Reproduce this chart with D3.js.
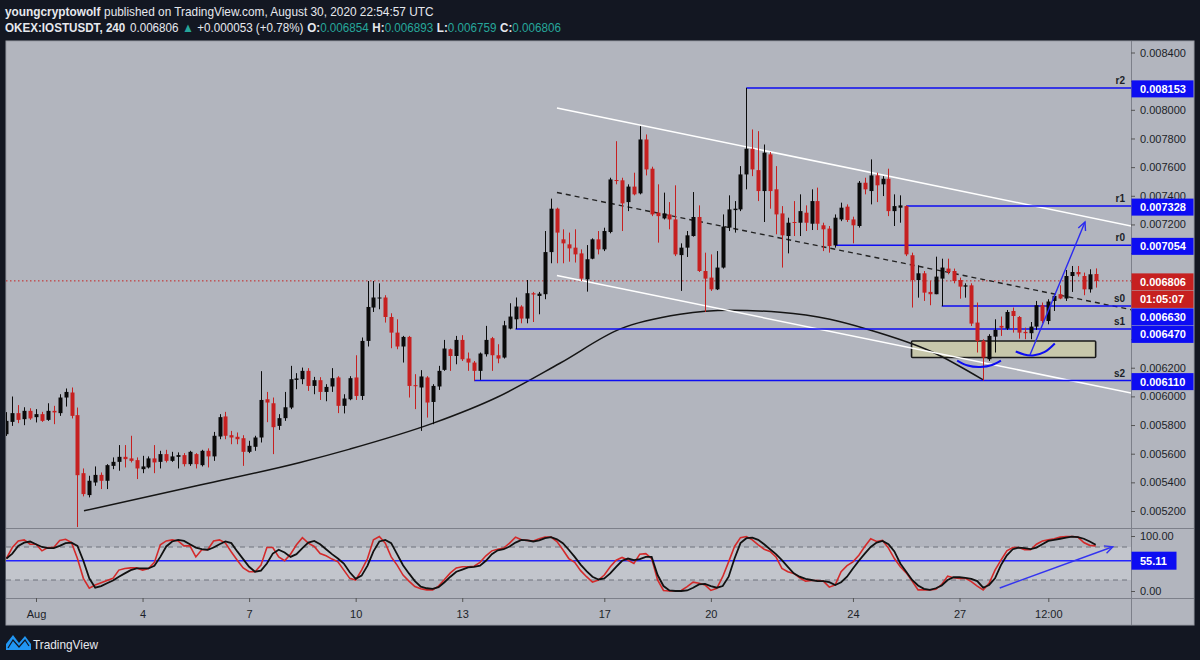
<!DOCTYPE html>
<html><head><meta charset="utf-8">
<script src="https://cdn.jsdelivr.net/npm/d3@7"></script>
<style>html,body{margin:0;padding:0;background:#131722;}svg{display:block;}</style>
</head><body>
<svg id="c" width="1200" height="660"></svg>
<script>
// ---------------- DATA (prices in 1e-6 USDT) ----------------
// 4h candles from 2020-07-31 04:00 UTC to 2020-08-30 20:00 UTC : [open, high, low, close]
const candles = [
[5736,5890,5724,5829],[5822,5999,5794,5883],[5883,5939,5813,5836],[5841,5924,5799,5899],[5899,5917,5836,5846],
[5855,5911,5818,5876],[5876,5892,5822,5829],[5836,5952,5829,5899],[5899,5934,5806,5888],[5883,6015,5864,5992],
[5992,6055,5929,6031],[6027,6062,5846,5864],[5869,5922,5088,5450],[5464,5497,5302,5318],[5311,5446,5295,5411],
[5399,5511,5376,5452],[5452,5469,5353,5411],[5411,5527,5353,5520],[5515,5574,5492,5543],[5543,5660,5481,5578],
[5578,5660,5504,5562],[5567,5725,5539,5550],[5555,5574,5423,5497],[5492,5585,5464,5511],[5504,5581,5497,5567],
[5567,5660,5464,5539],[5543,5620,5497,5597],[5597,5627,5539,5550],[5550,5613,5543,5581],[5578,5609,5497,5590],
[5590,5604,5511,5527],[5527,5620,5515,5613],[5597,5604,5497,5527],[5520,5627,5511,5620],[5620,5637,5504,5581],
[5581,5752,5550,5725],[5720,5876,5701,5855],[5860,5892,5701,5725],[5729,5759,5666,5713],[5718,5748,5666,5701],
[5708,5729,5515,5613],[5613,5690,5604,5655],[5648,5725,5620,5713],[5713,6176,5678,5975],[5980,6031,5820,5957],
[5952,5992,5597,5785],[5794,5876,5766,5848],[5848,6031,5829,5924],[5922,6213,5911,6120],[6115,6162,6050,6125],
[6120,6201,6085,6178],[6178,6197,6038,6073],[6073,6136,6015,6113],[6113,6134,5975,6031],[6031,6085,5966,6066],
[6069,6197,6031,6127],[6132,6141,5883,5934],[5934,6015,5881,5985],[5980,6141,5973,6127],[6132,6287,5975,6003],
[6003,6411,5975,6387],[6387,6805,6348,6624],[6620,6805,6589,6690],[6683,6789,6608,6690],[6690,6706,6515,6554],
[6554,6580,6336,6445],[6445,6538,6329,6348],[6348,6422,6236,6415],[6415,6422,5992,6073],[6078,6155,5911,6073],
[6062,6183,5759,6139],[6132,6141,5852,5957],[5961,6085,5806,6073],[6069,6213,6045,6178],[6185,6394,6178,6334],
[6329,6334,6178,6282],[6282,6422,6224,6394],[6394,6427,6247,6259],[6264,6306,6178,6236],[6236,6247,6110,6178],
[6178,6306,6115,6299],[6294,6492,6278,6394],[6406,6415,6178,6287],[6287,6364,6231,6264],[6271,6527,6264,6496],
[6473,6650,6468,6557],[6538,6690,6470,6627],[6627,6636,6510,6543],[6543,6812,6510,6720],[6720,6729,6519,6711],
[6701,6729,6573,6717],[6713,7154,6678,7007],[7007,7380,6929,7310],[7310,7317,6929,7143],[7096,7166,6929,7068],
[7061,7143,6940,7033],[7038,7166,6934,6991],[6998,7026,6805,6822],[6817,7056,6731,6957],[6961,7103,6957,7096],
[7096,7154,6991,7026],[7026,7177,7014,7154],[7147,7526,7138,7514],[7510,7781,7480,7503],[7508,7526,7154,7347],
[7356,7480,7293,7464],[7464,7561,7403,7410],[7417,7886,7410,7793],[7793,7828,7542,7584],[7589,7603,7258,7270],
[7282,7480,7073,7258],[7242,7422,7235,7277],[7270,7356,7166,7235],[7235,7473,6979,6991],[6986,7068,6736,7038],
[7038,7154,6973,7124],[7119,7426,7115,7252],[7252,7333,6868,6875],[6875,7003,6589,6822],[6829,6991,6736,6747],
[6747,7014,6742,6899],[6899,7270,6892,7185],[7178,7403,7154,7305],[7300,7363,7143,7310],[7305,7607,7293,7549],
[7549,8153,7445,7728],[7728,7863,7537,7584],[7579,7851,7363,7433],[7433,7758,7217,7701],[7689,7705,7310,7433],
[7445,7607,7131,7270],[7277,7328,6899,7124],[7119,7247,6998,7212],[7217,7363,7119,7212],[7212,7410,7119,7293],
[7282,7333,7154,7212],[7205,7445,7161,7363],[7363,7457,7161,7205],[7194,7212,7014,7166],[7171,7189,7003,7049],
[7054,7270,7038,7247],[7235,7352,7223,7317],[7324,7340,7217,7231],[7235,7254,7068,7194],[7189,7503,7178,7491],
[7491,7526,7410,7445],[7433,7654,7340,7542],[7542,7561,7356,7473],[7480,7537,7398,7519],[7519,7589,7258,7293],
[7293,7410,7189,7328],[7317,7403,7212,7333],[7328,7333,6979,6991],[6985,7003,6620,6812],[6812,6915,6689,6859],
[6859,6875,6666,6724],[6729,6805,6636,6713],[6713,6975,6713,6836],[6822,6961,6630,6899],[6892,6961,6852,6868],
[6875,6892,6789,6805],[6812,6829,6682,6766],[6766,6789,6689,6775],[6775,6789,6491,6508],[6515,6655,6306,6387],
[6387,6399,6110,6271],[6259,6434,6247,6422],[6417,6538,6306,6464],[6492,6557,6422,6480],[6473,6603,6464,6589],
[6596,6620,6445,6561],[6554,6561,6403,6445],[6450,6480,6399,6441],[6441,6519,6399,6487],[6487,6666,6464,6636],
[6636,6655,6510,6526],[6526,6678,6503,6662],[6666,6713,6596,6701],[6713,6775,6678,6683],[6683,6882,6666,6840],
[6840,6910,6729,6868],[6868,6910,6836,6852],[6840,6864,6706,6747],[6747,6887,6724,6852],[6854,6893,6759,6806]
];
// Stoch RSI %K (red) and %D (black), one value per candle
const stochK = [59,79,91,93,85,85,73,79,79,92, 94,88,59,23,5,11,15,19,23,38, 41,42,42,38,41,52,84,91,93,91,
 82,82,62,75,75,91,93,87,71,56, 42,35,35,47,79,79,62,55,67,84, 97,87,81,68,64,58,53,38,23,20,
 38,59,93,99,87,62,47,29,18,8, 4,2,2,9,21,33,42,44,44,45, 52,64,73,76,78,87,98,93,92,91,
 95,98,98,90,75,59,52,37,26,16, 20,29,44,56,61,56,50,67,68,59, 20,1,0,0,1,8,16,14,11,1,
 5,26,53,81,97,99,93,84,76,72, 62,41,35,32,24,18,19,19,18,7, 11,35,46,53,65,81,95,90,92,78,
 59,44,33,18,2,2,2,3,12,27, 24,23,23,17,9,2,14,38,56,73, 79,79,75,75,85,91,93,95,98,99, 99,98,88,83,82];
const stochD = [59,68,82,88,90,85,80,78,78,82, 87,88,82,55,23,6,9,14,19,26, 32,38,41,41,41,46,62,81,90,93,
 91,85,79,76,75,79,85,90,87,72, 58,44,35,37,50,68,75,70,62,67, 78,88,91,85,76,67,59,50,34,22,
 28,46,72,90,93,87,67,47,32,18, 8,5,4,7,16,26,35,39,43,44, 46,55,67,74,76,81,88,93,92,90,
 92,96,98,94,87,75,62,48,36,26, 21,23,32,44,55,59,56,58,62,62, 29,9,1,0,0,1,6,12,13,9,
 6,9,26,59,87,96,97,93,85,76, 67,56,44,32,26,22,20,18,18,16, 11,16,26,41,55,68,80,88,91,85,
 72,50,35,20,10,4,2,5,10,20, 25,25,24,22,18,6,11,23,47,65, 76,79,78,76,79,85,91,93,95,97, 99,98,95,90,84];
const priceTicks = [5200,5400,5600,5800,6000,6200,6400,6600,6800,7000,7200,7400,7600,7800,8000,8200,8400];
const timeTickDates = ["2020-08-01T00:00Z","2020-08-04T00:00Z","2020-08-07T00:00Z","2020-08-10T00:00Z","2020-08-13T00:00Z",
 "2020-08-17T00:00Z","2020-08-20T00:00Z","2020-08-24T00:00Z","2020-08-27T00:00Z","2020-08-29T12:00Z"];
const timeTickLabels = ["Aug","4","7","10","13","17","20","24","27","12:00"];
const oscTicks = [0,100];
// horizontal levels: name, price, start candle index
const levelNames = ["r2","r1","r0","s0","s1","s2"];
const levelPrices = [8153,7328,7054,6630,6470,6110];
const levelStart = [125,152,140,158,86,79];
const currentPrice = 6806;
const countdown = "01:05:07";
const oscLevel = 55.11;
// header texts
const headerLine1 = [["youngcryptowolf",1,0,0],["published on TradingView.com, August 30, 2020 22:54:57 UTC",0,0,4]];
const headerLine2 = [["OKEX:IOSTUSDT, 240",1,0,0],["0.006806",0,0,5],["▲",0,1,4],["+0.000053 (+0.78%)",0,0,4],
 ["O:",1,0,4],["0.006854",0,1,0],["H:",1,0,4],["0.006893",0,1,0],["L:",1,0,4],["0.006759",0,1,0],["C:",1,0,4],["0.006806",0,1,0]];
// drawings: [candle index, price]
const channelUpper = [[93.0,8013],[190,7189]];
const channelLower = [[93.0,6844],[190,6024]];
const channelMid = [[93.0,7423],[190,6605]];
const arcCurve = [[13.1,5201],[32.7,5381],[49.6,5539],[58.0,5632],[72.1,5813],[82.9,5994],[93.5,6231],[103.6,6469],
 [113.8,6573],[122.2,6601],[130.7,6587],[139.1,6538],[145.4,6469],[156.5,6308],[165.0,6115]];
const zoneBox = [[152.9,6387],[184.0,6271]];
const smile1 = [[160.6,6250],[162.4,6215],[164.5,6205],[166.5,6219],[168.0,6250]];
const smile2 = [[170.5,6313],[171.9,6292],[173.4,6285],[175.4,6310],[177.1,6369]];
const arrowMain = [[172.9,6289],[182.2,7217]];
const arrowOsc = [[167.8,5.5],[186.9,80.5]];

// ---------------- LAYOUT ----------------
const PL=6, PR=1194, AX=1131, MT=41, MB=528, OB=598, TB=625;
const BG='#131722', PANE='#b2b5be', BAND='#c2c5cc', SEP='#7d808a';
const UP='#0a0a0a', DN='#c62020', BLUE='#0d0df2', TXT='#1c1f29';
const FONT='"Liberation Sans", Arial, sans-serif';

const t0 = Date.UTC(2020,6,31,4), H4 = 4*3600*1000;
const x = d3.scaleUtc().domain([new Date(Date.UTC(2020,7,1)), new Date(Date.UTC(2020,7,27))]).range([36,959.5]);
const xi = i => x(new Date(t0 + i*H4));
const y = d3.scaleLinear().domain([5200,8400]).range([511,52.5]);
const yO = d3.scaleLinear().domain([0,100]).range([591,536]);

const svg = d3.select('#c');
const defs = svg.append('defs');
defs.append('clipPath').attr('id','cm').append('rect').attr('x',PL).attr('y',MT).attr('width',AX-PL).attr('height',MB-MT);
defs.append('clipPath').attr('id','co').append('rect').attr('x',PL).attr('y',MB).attr('width',AX-PL).attr('height',OB-MB);

svg.append('rect').attr('width',1200).attr('height',660).attr('fill',BG);
svg.append('rect').attr('x',PL).attr('y',MT).attr('width',PR-PL).attr('height',TB-MT).attr('fill',PANE)
  .attr('stroke','#9a9da6').attr('stroke-width',1);
svg.append('rect').attr('x',PL).attr('y',yO(80)).attr('width',AX-PL).attr('height',yO(20)-yO(80)).attr('fill',BAND);

// ---------------- MAIN PANE ----------------
const gm = svg.append('g').attr('clip-path','url(#cm)');
const lp = d3.line().x(d=>xi(d[0])).y(d=>y(d[1]));

gm.append('line').attr('x1',PL).attr('x2',AX).attr('y1',y(currentPrice)).attr('y2',y(currentPrice))
  .attr('stroke',DN).attr('stroke-width',1).attr('stroke-dasharray','1.5,2.5');

gm.append('rect').attr('x',xi(zoneBox[0][0])).attr('y',y(zoneBox[0][1]))
  .attr('width',xi(zoneBox[1][0])-xi(zoneBox[0][0])).attr('height',y(zoneBox[1][1])-y(zoneBox[0][1]))
  .attr('fill','#c9c9a9').attr('fill-opacity',0.9).attr('stroke','#1a1a1a').attr('stroke-width',1.6).attr('rx',1);

gm.append('path').attr('d',lp.curve(d3.curveMonotoneX)(arcCurve)).attr('fill','none').attr('stroke','#151515').attr('stroke-width',1.5);
lp.curve(d3.curveLinear);
gm.append('path').attr('d',lp(channelUpper)).attr('stroke','#ffffff').attr('stroke-width',1.5).attr('fill','none');
gm.append('path').attr('d',lp(channelLower)).attr('stroke','#ffffff').attr('stroke-width',1.5).attr('fill','none');
gm.append('path').attr('d',lp(channelMid)).attr('stroke','#222').attr('stroke-width',1.4).attr('fill','none').attr('stroke-dasharray','5,4');

levelPrices.forEach((p,k)=>{
  gm.append('line').attr('x1',xi(levelStart[k])).attr('x2',AX).attr('y1',y(p)).attr('y2',y(p))
    .attr('stroke',BLUE).attr('stroke-width',1.5);
  gm.append('text').attr('x',1125).attr('y',y(p)-4).attr('text-anchor','end')
    .attr('font-family',FONT).attr('font-size',10).attr('font-weight','bold').attr('fill',TXT).text(levelNames[k]);
});

// candles
const cg = gm.append('g').selectAll('g').data(candles).join('g')
  .attr('fill',d=>d[3]>=d[0]?UP:DN).attr('stroke',d=>d[3]>=d[0]?UP:DN);
cg.append('line')
  .attr('x1',(d,i)=>Math.round(xi(i))+0.5).attr('x2',(d,i)=>Math.round(xi(i))+0.5)
  .attr('y1',d=>y(d[1])).attr('y2',d=>y(d[2])).attr('stroke-width',1);
cg.append('rect')
  .attr('x',(d,i)=>Math.round(xi(i))-1.5).attr('width',4)
  .attr('y',d=>y(Math.max(d[0],d[3])))
  .attr('height',d=>Math.max(1,Math.abs(y(d[0])-y(d[3])))).attr('stroke','none');

// smiles and arrow
const ls = d3.line().x(d=>xi(d[0])).y(d=>y(d[1])).curve(d3.curveNatural);
[smile1,smile2].forEach(s=>gm.append('path').attr('d',ls(s)).attr('fill','none').attr('stroke',BLUE).attr('stroke-width',2));
function arrow(g, p1, p2, col){
  g.append('line').attr('x1',p1[0]).attr('y1',p1[1]).attr('x2',p2[0]).attr('y2',p2[1]).attr('stroke',col).attr('stroke-width',1.4);
  const a = Math.atan2(p2[1]-p1[1], p2[0]-p1[0]), L=9, s=0.45;
  const h = [[p2[0]-L*Math.cos(a-s), p2[1]-L*Math.sin(a-s)],[p2[0],p2[1]],[p2[0]-L*Math.cos(a+s), p2[1]-L*Math.sin(a+s)]];
  g.append('path').attr('d',d3.line()(h)).attr('fill','none').attr('stroke',col).attr('stroke-width',1.4);
}
arrow(gm,[xi(arrowMain[0][0]),y(arrowMain[0][1])],[xi(arrowMain[1][0]),y(arrowMain[1][1])],'#2a2af0');

// ---------------- OSC PANE ----------------
const go = svg.append('g').attr('clip-path','url(#co)');
[80,20].forEach(v=>go.append('line').attr('x1',PL).attr('x2',AX).attr('y1',yO(v)).attr('y2',yO(v))
  .attr('stroke','#6f727c').attr('stroke-dasharray','5,4').attr('stroke-width',1));
go.append('line').attr('x1',PL).attr('x2',AX).attr('y1',yO(oscLevel)).attr('y2',yO(oscLevel)).attr('stroke','#2424ff').attr('stroke-width',1.5);
const lo = d3.line().x((d,i)=>xi(i)).y(d=>yO(d));
go.append('path').attr('d',lo(stochK)).attr('fill','none').attr('stroke','#d42a2a').attr('stroke-width',1.6);
go.append('path').attr('d',lo(stochD)).attr('fill','none').attr('stroke','#111').attr('stroke-width',1.8);
arrow(go,[xi(arrowOsc[0][0]),yO(arrowOsc[0][1])],[xi(arrowOsc[1][0]),yO(arrowOsc[1][1])],'#3434f0');

// ---------------- SEPARATORS ----------------
svg.append('line').attr('x1',PL).attr('x2',PR).attr('y1',MB+0.5).attr('y2',MB+0.5).attr('stroke',SEP);
svg.append('line').attr('x1',PL).attr('x2',PR).attr('y1',OB+0.5).attr('y2',OB+0.5).attr('stroke',SEP);
svg.append('line').attr('x1',AX+0.5).attr('x2',AX+0.5).attr('y1',MT).attr('y2',TB).attr('stroke',SEP);

// ---------------- AXES ----------------
function styleAxis(g){
  g.select('.domain').remove();
  g.selectAll('line').attr('stroke','#555');
  g.selectAll('text').attr('fill',TXT).attr('font-family',FONT).attr('font-size',11);
}
// price axis labels with stacking
const labs = levelPrices.map(p=>({cy:y(p)+1, txt:(p/1e6).toFixed(6), bg:BLUE}));
labs.push({cy:y(currentPrice)+1, txt:(currentPrice/1e6).toFixed(6), bg:DN});
labs.push({cy:y(currentPrice)+1.01+17.5, txt:countdown, bg:DN});
labs.sort((a,b)=>a.cy-b.cy);
for(let k=1;k<labs.length;k++){ if(labs[k].cy < labs[k-1].cy+17.5) labs[k].cy = labs[k-1].cy+17.5; }

const pax = svg.append('g').attr('transform',`translate(${AX},0)`)
  .call(d3.axisRight(y).tickValues(priceTicks).tickFormat(d=>(d/1e6).toFixed(6)).tickSize(4).tickPadding(5))
  .call(styleAxis);
// tick labels that are fully hidden behind a label box are not drawn
pax.selectAll('.tick text').attr('display',d=>labs.some(l=>Math.abs(l.cy-y(d))<8.5)?'none':null);
svg.append('g').attr('transform',`translate(${AX},0)`)
  .call(d3.axisRight(yO).tickValues(oscTicks).tickFormat(d=>d.toFixed(2)).tickSize(4).tickPadding(5))
  .call(styleAxis);
svg.append('g').attr('transform',`translate(0,${OB})`)
  .call(d3.axisBottom(x).tickValues(timeTickDates.map(s=>new Date(s))).tickFormat((d,i)=>timeTickLabels[i]).tickSize(4).tickPadding(8))
  .call(styleAxis);

labs.forEach(l=>{
  svg.append('rect').attr('x',AX+0.5).attr('y',l.cy-8.5).attr('width',PR-AX-1).attr('height',17).attr('fill',l.bg);
  svg.append('text').attr('x',AX+9).attr('y',l.cy).attr('dy','0.36em').attr('fill','#fff')
    .attr('font-family',FONT).attr('font-size',11).attr('font-weight','bold').text(l.txt);
});
svg.append('rect').attr('x',AX+0.5).attr('y',yO(oscLevel)-9).attr('width',45).attr('height',18).attr('fill',BLUE);
svg.append('text').attr('x',AX+9).attr('y',yO(oscLevel)).attr('dy','0.36em').attr('fill','#fff')
  .attr('font-family',FONT).attr('font-size',11).attr('font-weight','bold').text(oscLevel.toFixed(2));

// ---------------- HEADER ----------------
const W1='#e6e8ee', TEAL='#26a69a';
function headerLine(segs, by, target){
  const g = svg.append('g');
  let cx = 0;
  segs.forEach(s=>{
    cx += s[3];
    const t = g.append('text').attr('x',cx).attr('y',by).attr('font-family',FONT).attr('font-size',13)
      .attr('font-weight',s[1]?'bold':'normal').attr('fill',s[2]?TEAL:W1).text(s[0]);
    cx += t.node().getComputedTextLength();
  });
  g.attr('transform',`translate(5,0) scale(${target/cx},1)`);
}
headerLine(headerLine1, 16, 429);
headerLine(headerLine2, 32, 556);

// ---------------- FOOTER LOGO ----------------
svg.append('path').attr('d','M6,650 L6,644 L13,635 L19,643 L25,636 L31,644 L31,650 Z').attr('fill','#2196f3');
svg.append('path').attr('d','M8,648 L13,640 L19,647 L25,640 L29,646').attr('fill','none').attr('stroke','#131722').attr('stroke-width',1.2);
svg.append('text').attr('x',33).attr('y',649).attr('font-family',FONT).attr('font-size',13).attr('fill','#e6e8ee')
  .attr('textLength',65).attr('lengthAdjust','spacingAndGlyphs').text('TradingView');
</script>
</body></html>
